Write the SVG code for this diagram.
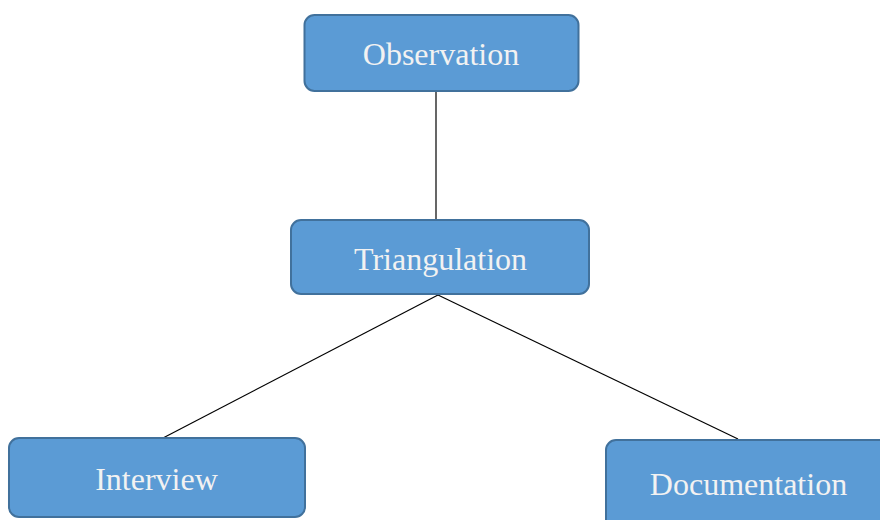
<svg xmlns="http://www.w3.org/2000/svg" width="880" height="520" viewBox="0 0 880 520">
<style>
.box{fill:#5B9BD5;stroke:#41719C;stroke-width:2}
.lbl{font-family:"Liberation Serif","Times New Roman",serif;font-size:32px;fill:#F2F2F2;text-anchor:middle}
.conn{stroke:#000;stroke-width:1.2;fill:none}
</style>
<rect width="880" height="520" fill="#fff"/>
<g id="connectors">
<line class="conn" x1="436" y1="92" x2="436" y2="219"/>
<line class="conn" x1="438" y1="295" x2="163" y2="438"/>
<line class="conn" x1="438" y1="295" x2="738" y2="439"/>
</g>
<g id="observation">
<rect class="box" x="304.5" y="15" width="274" height="76" rx="10"/>
<text class="lbl" x="441" y="65">Observation</text>
</g>
<g id="triangulation">
<rect class="box" x="291" y="220" width="298" height="74" rx="10"/>
<text class="lbl" x="440.5" y="270">Triangulation</text>
</g>
<g id="interview">
<rect class="box" x="9" y="438" width="296" height="79" rx="10"/>
<text class="lbl" x="156.5" y="490">Interview</text>
</g>
<g id="documentation">
<rect class="box" x="606" y="440" width="296" height="90" rx="10"/>
<text class="lbl" x="748.5" y="495">Documentation</text>
</g>
</svg>
